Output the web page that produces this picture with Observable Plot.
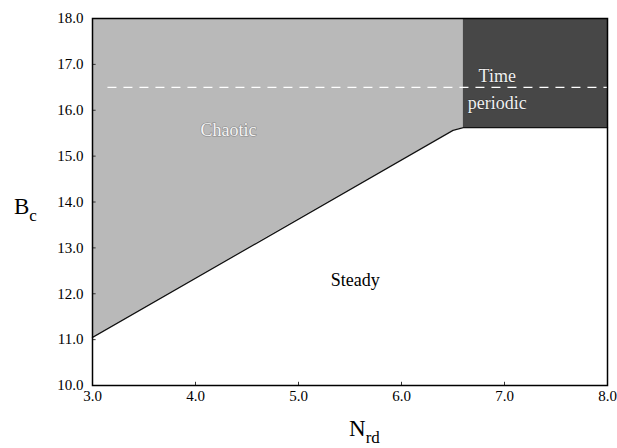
<!DOCTYPE html>
<html><head><meta charset="utf-8">
<script src="https://cdn.jsdelivr.net/npm/d3@7"></script>
<script src="https://cdn.jsdelivr.net/npm/@observablehq/plot@0.6"></script>
<style>
body{margin:0;background:#fff}
#wrap{position:relative;width:617px;height:448px}
.axlab{position:absolute;font-family:'Liberation Serif','Times New Roman',serif;font-size:23px;line-height:23px;color:#000;white-space:nowrap}
.axlab span{position:relative;top:7px;font-size:17px}
</style>
</head><body><div id="wrap"><div id="chart"></div>
<div class="axlab" style="left:14px;top:195px">B<span>c</span></div>
<div class="axlab" style="left:349px;top:417px">N<span>rd</span></div>
</div>
<script>
const boundaryN = [3.0, 6.5, 6.6, 8.0];
const boundaryB = [11.05, 15.56, 15.62, 15.62];
const chaoticN = [3.0, 6.5, 6.6];
const chaoticB = [11.05, 15.56, 15.62];
const periodicN = [6.6, 8.0];
const periodicB = [15.62, 18.0];
const dashedB = 16.5;
const xTicks = [3, 4, 5, 6, 7, 8];
const yTicks = [10, 11, 12, 13, 14, 15, 16, 17, 18];
const labels = [
  {text: "Chaotic", n: 4.32, b: 15.56, kind: "light"},
  {text: "Time", n: 6.93, b: 16.74, kind: "dark"},
  {text: "periodic", n: 6.93, b: 16.15, kind: "dark"},
  {text: "Steady", n: 5.55, b: 12.29, kind: "plain"}
];

const chaotic = chaoticN.map((n, i) => ({n, b: chaoticB[i]}));
const boundary = boundaryN.map((n, i) => ({n, b: boundaryB[i]}));
const font = "'Liberation Serif', 'Times New Roman', serif";

const plot = Plot.plot({
  width: 617, height: 448,
  marginLeft: 92, marginRight: 10, marginTop: 18, marginBottom: 63,
  style: {fontSize: "15px", color: "#000", background: "#fff"},
  x: {domain: [3, 8], label: null},
  y: {domain: [10, 18], label: null},
  marks: [
    Plot.areaY(chaotic, {x: "n", y1: "b", y2: 18, fill: "#b9b9b9"}),
    Plot.rect([{x1: periodicN[0], x2: periodicN[1], y1: periodicB[0], y2: periodicB[1]}],
      {x1: "x1", x2: "x2", y1: "y1", y2: "y2", fill: "#474747"}),
    Plot.line(boundary, {x: "n", y: "b", stroke: "#111", strokeWidth: 1.3}),
    Plot.ruleY([dashedB], {x1: 3.15, x2: 8, stroke: "#fff", strokeWidth: 1.2, strokeDasharray: "9,7"}),
    Plot.ruleY(yTicks.slice(1, -1), {x1: 3, x2: 3.035, stroke: "#333", strokeWidth: 1}),
    Plot.ruleX(xTicks.slice(1, -1), {y1: 10, y2: 10.07, stroke: "#333", strokeWidth: 1}),
    Plot.frame({stroke: "#000", strokeWidth: 1.5}),
    Plot.axisY(yTicks, {tickSize: 0, tickPadding: 9, tickFormat: d => d.toFixed(1), fontSize: 15}),
    Plot.axisX(xTicks, {tickSize: 0, tickPadding: 5, tickFormat: d => d.toFixed(1), fontSize: 15}),
    Plot.text(labels.filter(d => d.kind === "light"), {x: "n", y: "b", text: "text", fill: "#f4f4f4", stroke: "#8a8a8a", strokeWidth: 1.2, paintOrder: "stroke", fontSize: 18}),
    Plot.text(labels.filter(d => d.kind === "dark"), {x: "n", y: "b", text: "text", fill: "#f0f0f0", stroke: "#333", strokeWidth: 0.8, paintOrder: "stroke", fontSize: 18}),
    Plot.text(labels.filter(d => d.kind === "plain"), {x: "n", y: "b", text: "text", fill: "#000", fontSize: 18})
  ]
});
plot.setAttribute("font-family", font);
document.getElementById("chart").append(plot);

// Lift Plot's text elements to the SVG root (keeping their computed position and inherited styling) and set the serif font on them.
const inherit = ["fill", "fill-opacity", "stroke", "stroke-width", "stroke-opacity", "stroke-linejoin", "paint-order",
  "font-size", "font-weight", "font-variant", "text-anchor", "dominant-baseline"];
Array.from(plot.querySelectorAll("text")).forEach(t => {
  const m = t.getCTM();
  for (let p = t.parentNode; p && p !== plot; p = p.parentNode) {
    if (!p.getAttribute) continue;
    inherit.forEach(a => {
      if (!t.hasAttribute(a) && p.hasAttribute(a)) t.setAttribute(a, p.getAttribute(a));
    });
  }
  if (!t.hasAttribute("font-size")) t.setAttribute("font-size", "15");
  if (!t.hasAttribute("fill")) t.setAttribute("fill", "#000");
  if (m) t.setAttribute("transform", `matrix(${m.a},${m.b},${m.c},${m.d},${m.e},${m.f})`);
  t.setAttribute("font-family", font);
  t.style.setProperty("font-family", font, "important");
  plot.appendChild(t);
});
</script></body></html>
